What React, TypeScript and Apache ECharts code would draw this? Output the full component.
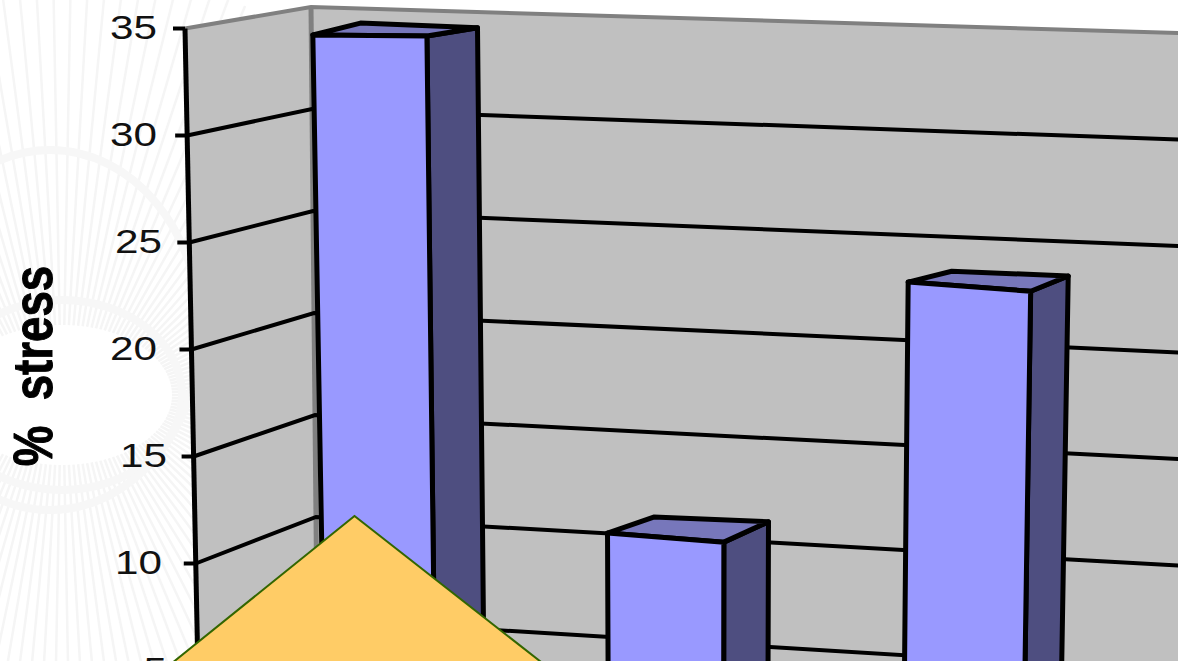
import React, { useEffect, useRef } from "react";
import * as echarts from "echarts";

// Stress share per group, drawn as perspective columns.
const categories = ["A", "B", "C"];
const stressValues = [34.5, 11.5, 23.8];
const yTicks = [5, 10, 15, 20, 25, 30, 35];
const axisTitle = "%  stress";

// Right edge of each tick label, in the same order as yTicks.
const tickLabelRight = [167, 162, 167, 157, 162, 157, 157];

const FONT = '"Liberation Sans", Arial, sans-serif';
const INK = "#000000";
const WALL = "#c0c0c0";
const EDGE = "#808080";
const FACE_FRONT = "#9999ff";
const FACE_TOP = "#7777bb";
const FACE_SIDE = "#4e4e80";

const BAR_SHARE = 0.395;
const UNIT = 21; // px per value unit on the flat grid (grid top = 35)

// Columns lean towards a vanishing point far below the plot.
const converge = (x: number, y: number) => x + (700 - x) * 4.5e-5 * y;

// Maps a grid point onto one of the column corners; side: 0 left / 1 right, depth: 0 front / 1 back.
function corner(px: number, py: number, side: number, depth: number): number[] {
  const u = px - 670;
  if (depth === 0) {
    const x = px - 5.4 + 0.006 * u + 7e-5 * u * u;
    const y = side
      ? 7.4 + 0.042 * x + (py * 21.46) / UNIT
      : 14 + 0.0333 * x + (py * 21.23) / UNIT;
    return [converge(x, y), y];
  }
  const bend = 6 * (1 - Math.exp(-((u / 150) ** 2))) - 2.5;
  const x = 713 + 0.992 * u + bend;
  const y = -1.8 + 0.04 * x + (py * 20.97) / UNIT;
  return [converge(x, y), y];
}

// Back wall surface: widens slightly and falls towards the right.
const wallY = (x: number, py: number) =>
  7 + (py * (20.4 + 0.00104 * (x - 311))) / UNIT + 0.03 * (x - 311);
const frontAxis = (py: number) => [185 + py * 0.0205, 28.5 + (py * 21.4) / UNIT];
const backCorner = (py: number) => [311 + py * 0.0095, wallY(311, py)];
const WALL_RIGHT = 1300;

function renderWalls(_: any, api: any) {
  const py0 = api.coord([0, 0])[1];
  const py35 = api.coord([0, 35])[1];
  const fTop = frontAxis(py35);
  const fBot = frontAxis(py0);
  const bTop = backCorner(py35);
  const bBot = backCorner(py0);
  return {
    type: "group",
    children: [
      {
        type: "polygon",
        shape: { points: [fTop, bTop, bBot, fBot] },
        style: { fill: WALL },
      },
      {
        type: "polygon",
        shape: {
          points: [bTop, [WALL_RIGHT, wallY(WALL_RIGHT, py35)], [WALL_RIGHT, wallY(WALL_RIGHT, py0)], bBot],
        },
        style: { fill: WALL },
      },
      {
        type: "polyline",
        shape: { points: [fTop, bTop, [WALL_RIGHT, wallY(WALL_RIGHT, py35)]] },
        style: { stroke: EDGE, lineWidth: 4, fill: "none" },
      },
      {
        type: "line",
        shape: { x1: bTop[0], y1: bTop[1], x2: bBot[0], y2: bBot[1] },
        style: { stroke: EDGE, lineWidth: 5 },
      },
      {
        type: "line",
        shape: { x1: fTop[0], y1: fTop[1], x2: fBot[0], y2: fBot[1] },
        style: { stroke: INK, lineWidth: 5 },
      },
    ],
  };
}

function renderTick(params: any, api: any) {
  const v = api.value(0);
  const py = api.coord([0, v])[1];
  const f = frontAxis(py);
  const b = backCorner(py);
  const children: any[] = [
    {
      type: "line",
      shape: { x1: f[0] - 12, y1: f[1], x2: f[0], y2: f[1] },
      style: { stroke: INK, lineWidth: 4 },
    },
    {
      type: "text",
      x: tickLabelRight[params.dataIndex],
      y: f[1] - 1,
      scaleX: 1.28,
      style: {
        text: String(v),
        fontFamily: FONT,
        fontSize: 33,
        fill: "#111111",
        align: "right",
        verticalAlign: "middle",
      },
    },
  ];
  if (v !== 35) {
    children.push({
      type: "polyline",
      shape: { points: [f, b, [WALL_RIGHT, wallY(WALL_RIGHT, py)]] },
      style: { stroke: INK, lineWidth: 4, fill: "none" },
    });
  }
  return { type: "group", children };
}

function renderColumn(_: any, api: any) {
  const cat = api.value(0);
  const top = api.coord([cat, api.value(1)]);
  const base = api.coord([cat, 0]);
  const half = (api.size([1, 0])[0] * BAR_SHARE) / 2;
  const l = top[0] - half;
  const r = top[0] + half;
  const ftl = corner(l, top[1], 0, 0);
  const ftr = corner(r, top[1], 1, 0);
  const btl = corner(l, top[1], 0, 1);
  const btr = corner(r, top[1], 1, 1);
  const fbl = corner(l, base[1], 0, 0);
  const fbr = corner(r, base[1], 1, 0);
  const bbr = corner(r, base[1], 1, 1);
  const stroke = { stroke: INK, lineWidth: 5, lineJoin: "round" };
  return {
    type: "group",
    children: [
      { type: "polygon", shape: { points: [ftr, btr, bbr, fbr] }, style: { fill: FACE_SIDE, ...stroke } },
      { type: "polygon", shape: { points: [ftl, ftr, btr, btl] }, style: { fill: FACE_TOP, ...stroke } },
      { type: "polygon", shape: { points: [ftl, ftr, fbr, fbl] }, style: { fill: FACE_FRONT, ...stroke } },
    ],
  };
}

// Faint guilloche backdrop on the left of the slide.
function backdrop() {
  const els: any[] = [];
  const cx = 62;
  const cy = 395;
  for (let i = 0; i < 150; i++) {
    const t = (i / 150) * Math.PI * 2;
    els.push({
      type: "line",
      silent: true,
      z: -10,
      shape: {
        x1: cx + Math.cos(t) * 110,
        y1: cy + Math.sin(t) * 70,
        x2: cx + Math.cos(t) * 430,
        y2: cy + Math.sin(t) * 430,
      },
      style: { stroke: "#f5f5f5", lineWidth: 2.5 },
    });
  }
  [
    [62, 395, 120, 95],
    [50, 330, 150, 180],
  ].forEach(([x, y, rx, ry]) =>
    els.push({
      type: "ellipse",
      silent: true,
      z: -9,
      shape: { cx: x, cy: y, rx, ry },
      style: { fill: "none", stroke: "#f7f7f7", lineWidth: 8 },
    })
  );
  return els;
}

export default function App() {
  const ref = useRef<HTMLDivElement>(null);
  useEffect(() => {
    if (!ref.current) return;
    const chart = echarts.init(ref.current, undefined, { renderer: "svg" });
    chart.setOption({
      animation: false,
      backgroundColor: "#ffffff",
      grid: { left: 220, top: 0, width: 900, height: 735, containLabel: false, outerBoundsMode: "none" },
      xAxis: { type: "category", data: categories, show: false },
      yAxis: { type: "value", min: 0, max: 35, interval: 5, show: false },
      graphic: [
        ...backdrop(),
        {
          type: "text",
          x: 33,
          y: 366,
          rotation: Math.PI / 2,
          scaleX: 0.83,
          z: 50,
          style: {
            text: axisTitle,
            fontFamily: FONT,
            fontWeight: "bold",
            fontSize: 55,
            fill: INK,
            stroke: INK,
            lineWidth: 1,
            align: "center",
            verticalAlign: "middle",
          },
        },
        {
          type: "polygon",
          z: 100,
          shape: {
            points: [
              [354.5, 516],
              [120, 705],
              [596, 705],
            ],
          },
          style: { fill: "#ffcc66", stroke: "#336600", lineWidth: 2 },
        },
      ],
      series: [
        { type: "custom", z: 1, renderItem: renderWalls, data: [[0]], silent: true },
        {
          type: "custom",
          z: 2,
          renderItem: renderTick,
          data: yTicks.map((v) => [v]),
          encode: { y: 0 },
          silent: true,
        },
        {
          type: "custom",
          z: 3,
          renderItem: renderColumn,
          data: categories.map((_, i) => [i, stressValues[i]]),
          encode: { x: 0, y: 1 },
          silent: true,
        },
      ],
    });
    return () => chart.dispose();
  }, []);
  return <div ref={ref} style={{ position: "fixed", left: 0, top: 0, width: 1178, height: 661 }} />;
}
